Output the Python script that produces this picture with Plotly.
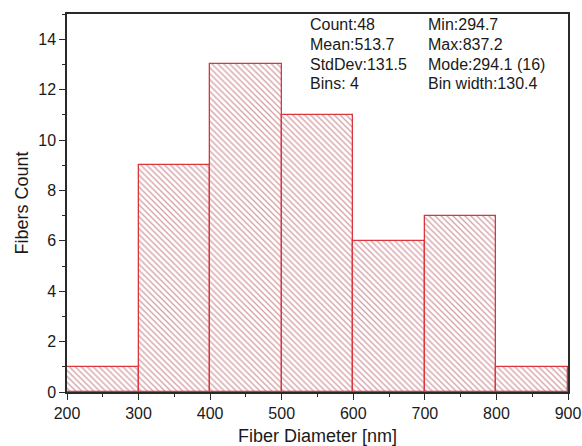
import plotly.graph_objects as go

bin_centers = [250, 350, 450, 550, 650, 750, 850]
counts = [1, 9, 13, 11, 6, 7, 1]
bin_width = 100
stats_left = ["Count:48", "Mean:513.7", "StdDev:131.5", "Bins: 4"]
stats_right = ["Min:294.7", "Max:837.2", "Mode:294.1 (16)", "Bin width:130.4"]

FONT = "Liberation Sans, Arial, sans-serif"
RED = "#d9363e"
HATCH = "#a8404e"
AX = "#2a2a2a"
TXT = "#1a1a1a"

fig = go.Figure()
fig.add_trace(go.Bar(
    x=bin_centers, y=counts, width=bin_width,
    marker=dict(
        color="white",
        line=dict(color=RED, width=1.3),
        pattern=dict(shape="\\", fgcolor=HATCH, bgcolor="white", size=4.2, solidity=0.32),
    ),
    showlegend=False,
))

# stats text block (two columns, four lines)
line_px = [24.5, 44.5, 64, 84]
plot_top, plot_h = 14, 378
for i, (a, b) in enumerate(zip(stats_left, stats_right)):
    yp = 1 - (line_px[i] - plot_top) / plot_h
    fig.add_annotation(x=0.481, y=yp, xref="paper", yref="paper", xanchor="left", yanchor="middle",
                       text=a, showarrow=False, align="left",
                       font=dict(family=FONT, size=16, color=TXT))
    fig.add_annotation(x=0.716, y=yp, xref="paper", yref="paper", xanchor="left", yanchor="middle",
                       text=b, showarrow=False, align="left",
                       font=dict(family=FONT, size=16, color=TXT))

axis_common = dict(
    showline=True, linecolor=AX, linewidth=1.5, mirror=True,
    ticks="outside", ticklen=6, tickwidth=1.3, tickcolor=AX,
    showgrid=False, zeroline=False,
    tickfont=dict(family=FONT, size=16, color=TXT),
)

fig.update_xaxes(range=[200, 900], dtick=100, tick0=200,
                 minor=dict(dtick=50, ticks="outside", ticklen=3, tickcolor=AX, tickwidth=1.2),
                 title=dict(text="Fiber Diameter [nm]", font=dict(family=FONT, size=18, color=TXT), standoff=8),
                 **axis_common)
fig.update_yaxes(range=[0, 15], dtick=2, tick0=0,
                 minor=dict(dtick=1, ticks="outside", ticklen=3, tickcolor=AX, tickwidth=1.2),
                 title=dict(text="Fibers Count", font=dict(family=FONT, size=18, color=TXT), standoff=5),
                 **axis_common)

fig.update_layout(
    width=582, height=446,
    margin=dict(l=67, r=14, t=14, b=54, autoexpand=False),
    paper_bgcolor="white", plot_bgcolor="white",
    bargap=0,
)

fig.write_html("out.html")
